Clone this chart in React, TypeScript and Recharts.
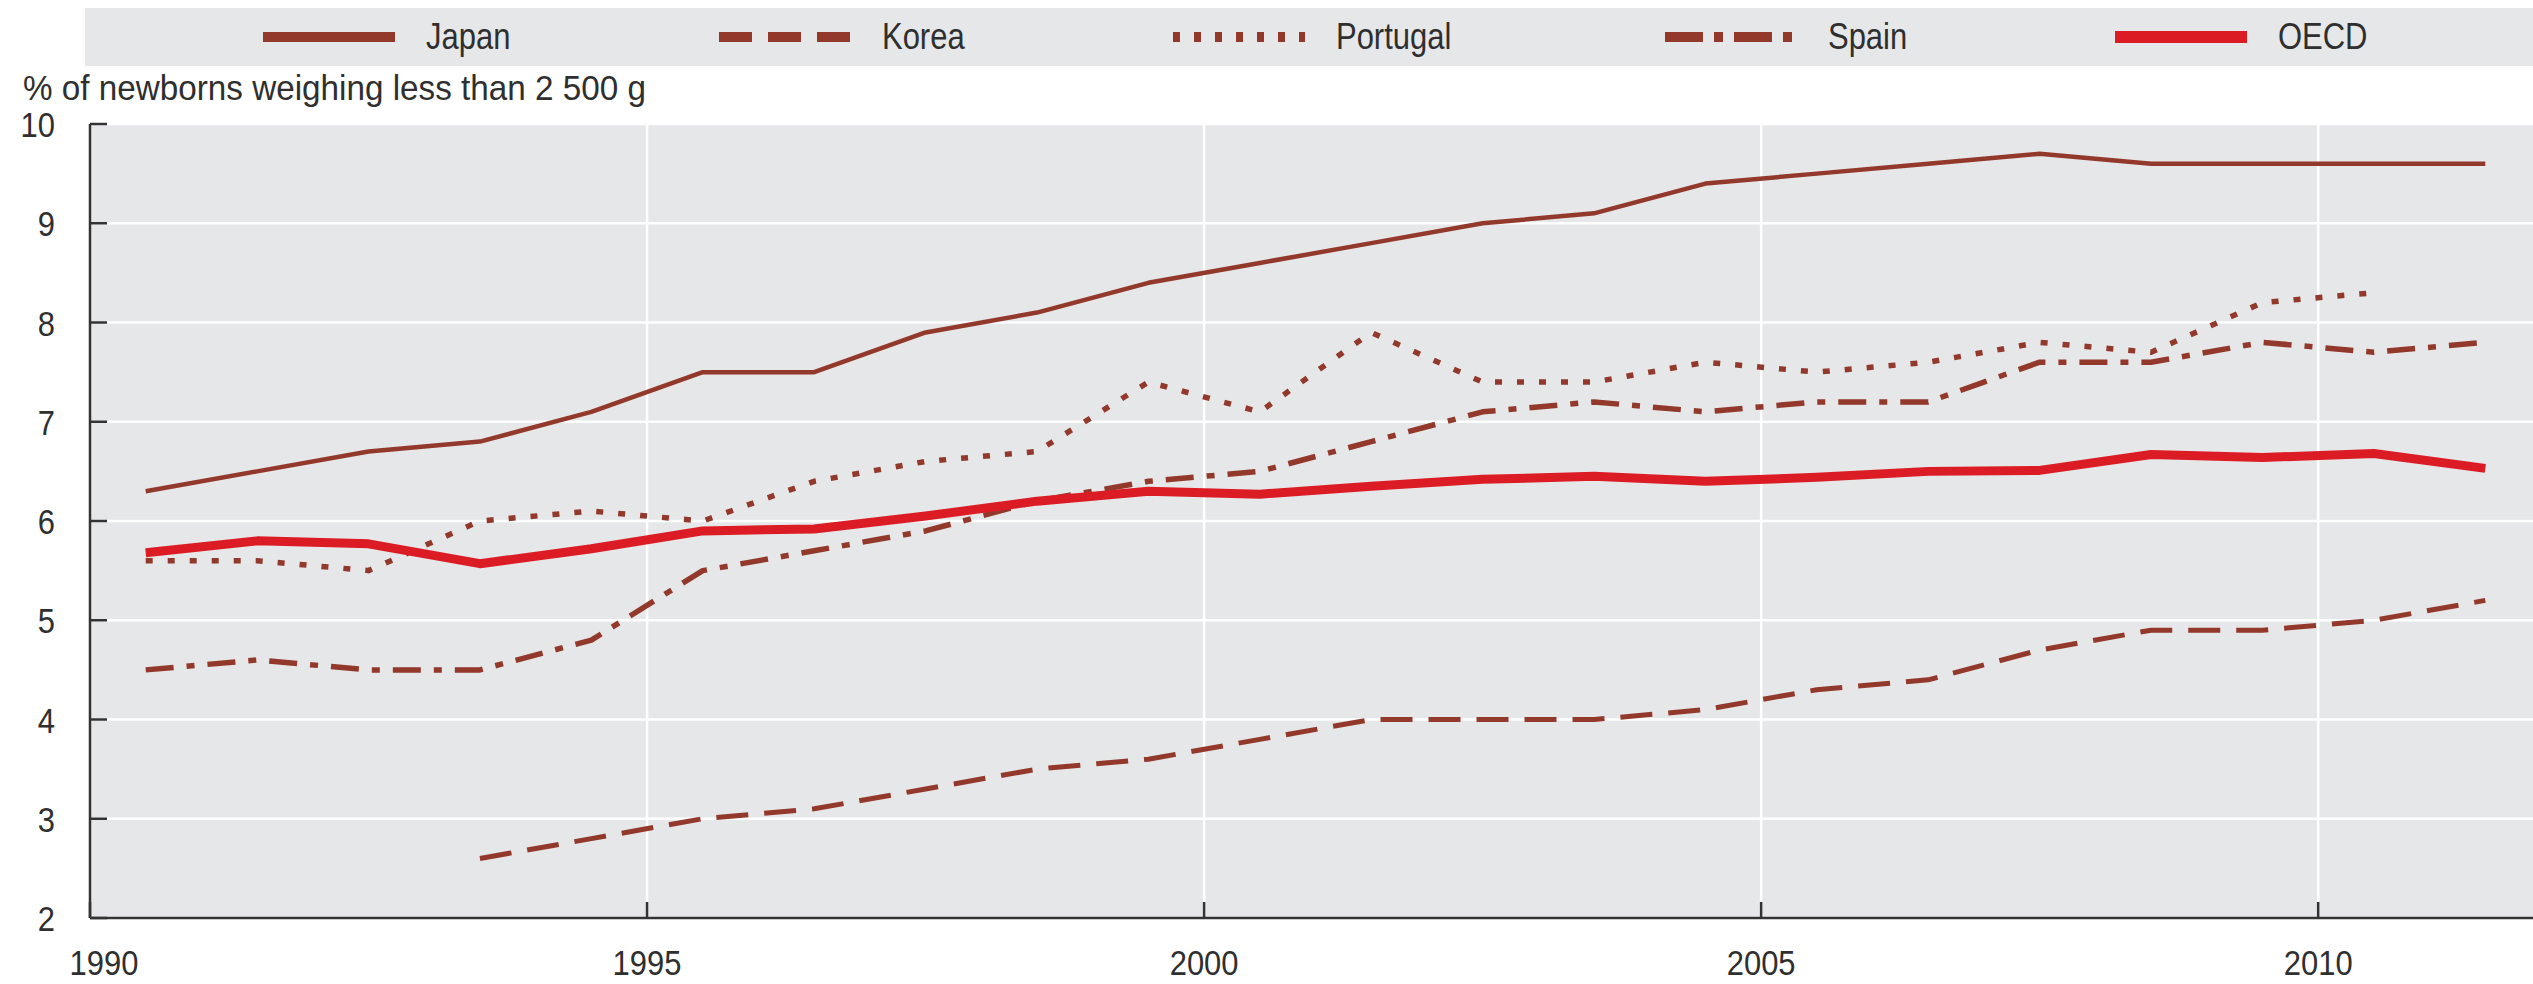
import { LineChart, Line, XAxis, YAxis, CartesianGrid } from 'recharts';

// low birth weight, % of newborns under 2 500 g
const years = [
  1990, 1991, 1992, 1993, 1994, 1995, 1996, 1997, 1998, 1999, 2000,
  2001, 2002, 2003, 2004, 2005, 2006, 2007, 2008, 2009, 2010, 2011,
];
const japan = [6.3, 6.5, 6.7, 6.8, 7.1, 7.5, 7.5, 7.9, 8.1, 8.4, 8.6, 8.8, 9.0, 9.1, 9.4, 9.5, 9.6, 9.7, 9.6, 9.6, 9.6, 9.6];
const korea = [null, null, null, 2.6, 2.8, 3.0, 3.1, 3.3, 3.5, 3.6, 3.8, 4.0, 4.0, 4.0, 4.1, 4.3, 4.4, 4.7, 4.9, 4.9, 5.0, 5.2];
const portugal = [5.6, 5.6, 5.5, 6.0, 6.1, 6.0, 6.4, 6.6, 6.7, 7.4, 7.1, 7.9, 7.4, 7.4, 7.6, 7.5, 7.6, 7.8, 7.7, 8.2, 8.3, null];
const spain = [4.5, 4.6, 4.5, 4.5, 4.8, 5.5, 5.7, 5.9, 6.2, 6.4, 6.5, 6.8, 7.1, 7.2, 7.1, 7.2, 7.2, 7.6, 7.6, 7.8, 7.7, 7.8];
const oecd = [5.68, 5.8, 5.77, 5.57, 5.72, 5.9, 5.92, 6.05, 6.2, 6.3, 6.27, 6.35, 6.42, 6.45, 6.4, 6.44, 6.5, 6.51, 6.67, 6.64, 6.68, 6.53];

const xTicks = [1990, 1995, 2000, 2005, 2010];
const yTicks = [2, 3, 4, 5, 6, 7, 8, 9, 10];
const yTitle = '% of newborns weighing less than 2 500 g';

// no narrow face installed, so squeeze Liberation Sans a bit
const FONT = '"Liberation Sans", Arial, sans-serif';
const SQUEEZE = 0.86;
const BROWN = '#93392B';
const RED = '#DC1C24';
const TEXT = '#2f2f2f';
const AXIS = '#333';

const series = [
  { key: 'japan', name: 'Japan', values: japan, color: BROWN, width: 4.5, dash: undefined, legendDash: undefined, legendWidth: 10 },
  { key: 'korea', name: 'Korea', values: korea, color: BROWN, width: 5, dash: '32 16', legendDash: '33 16', legendWidth: 10 },
  { key: 'portugal', name: 'Portugal', values: portugal, color: BROWN, width: 5.5, dash: '7 15', legendDash: '7 14', legendWidth: 10 },
  { key: 'spain', name: 'Spain', values: spain, color: BROWN, width: 5.5, dash: '28 13 8 13', legendDash: '38 11 9 11', legendWidth: 10 },
  { key: 'oecd', name: 'OECD', values: oecd, color: RED, width: 9, dash: undefined, legendDash: undefined, legendWidth: 12 },
];

// points sit in the middle of each year band
const data = years.map((year, i) => {
  const row: Record<string, number | null> = { x: year + 0.5 };
  series.forEach((s) => {
    row[s.key] = s.values[i];
  });
  return row;
});

function YTick({ x, y, payload }: any) {
  return (
    <g>
      <line x1={x + 35} x2={x + 52} y1={y} y2={y} stroke={AXIS} strokeWidth={2.5} />
      <text
        transform={`translate(${x} ${y + 13}) scale(${SQUEEZE} 1)`}
        textAnchor="end"
        fontSize={36}
        fill={TEXT}
        fontFamily={FONT}
      >
        {payload.value}
      </text>
    </g>
  );
}

function XTick({ x, y, payload, index }: any) {
  const tx = index === 0 ? x + 14 : x;
  return (
    <g>
      <line x1={x} x2={x} y1={y - 30} y2={y - 46} stroke={AXIS} strokeWidth={2.5} />
      <text
        transform={`translate(${tx} ${y + 27}) scale(${SQUEEZE} 1)`}
        textAnchor="middle"
        fontSize={36}
        fill={TEXT}
        fontFamily={FONT}
      >
        {payload.value}
      </text>
    </g>
  );
}

function LegendBox() {
  return (
    <div
      style={{
        position: 'absolute',
        left: 85,
        top: 8,
        width: 2448,
        height: 58,
        boxSizing: 'border-box',
        paddingLeft: 27,
        background: '#E6E7E8',
        display: 'flex',
        alignItems: 'center',
        justifyContent: 'center',
        gap: 195,
        fontFamily: FONT,
        fontSize: 36,
        color: TEXT,
      }}
    >
      {series.map((s) => (
        <div key={s.key} style={{ display: 'flex', alignItems: 'center' }}>
          <svg width={132} height={14} style={{ marginRight: 31 }}>
            <line
              x1={0}
              x2={132}
              y1={7}
              y2={7}
              stroke={s.color}
              strokeWidth={s.legendWidth}
              strokeDasharray={s.legendDash}
            />
          </svg>
          <span style={{ display: 'inline-block', transform: `scaleX(${SQUEEZE})`, transformOrigin: 'left center' }}>
            {s.name}
          </span>
        </div>
      ))}
    </div>
  );
}

export default function App() {
  return (
    <div
      style={{
        position: 'absolute',
        left: 0,
        top: 0,
        width: 2533,
        height: 984,
        overflow: 'hidden',
        background: '#fff',
      }}
    >
      <LegendBox />
      <div
        style={{
          position: 'absolute',
          left: 23,
          top: 70,
          fontFamily: FONT,
          fontSize: 35,
          lineHeight: '35px',
          color: TEXT,
          whiteSpace: 'nowrap',
          transform: 'scaleX(0.95)',
          transformOrigin: 'left center',
        }}
      >
        {yTitle}
      </div>
      <LineChart
        width={2541}
        height={984}
        data={data}
        margin={{ top: 124, right: 0, bottom: 0, left: 0 }}
      >
        <CartesianGrid fill="#E6E7E8" stroke="#fff" strokeWidth={2.5} />
        <XAxis
          dataKey="x"
          type="number"
          domain={[1990, 2012]}
          ticks={xTicks}
          allowDataOverflow
          height={66}
          tickLine={false}
          tickSize={0}
          tickMargin={30}
          tick={<XTick />}
          axisLine={{ stroke: AXIS, strokeWidth: 2.5 }}
        />
        <YAxis
          type="number"
          domain={[2, 10]}
          ticks={yTicks}
          allowDataOverflow
          width={90}
          tickLine={false}
          tickSize={0}
          tickMargin={35}
          tick={<YTick />}
          axisLine={{ stroke: AXIS, strokeWidth: 2.5 }}
        />
        {series.map((s) => (
          <Line
            key={s.key}
            type="linear"
            dataKey={s.key}
            name={s.name}
            stroke={s.color}
            strokeWidth={s.width}
            strokeDasharray={s.dash}
            strokeLinecap="butt"
            strokeLinejoin="round"
            dot={false}
            activeDot={false}
            isAnimationActive={false}
          />
        ))}
      </LineChart>
    </div>
  );
}
